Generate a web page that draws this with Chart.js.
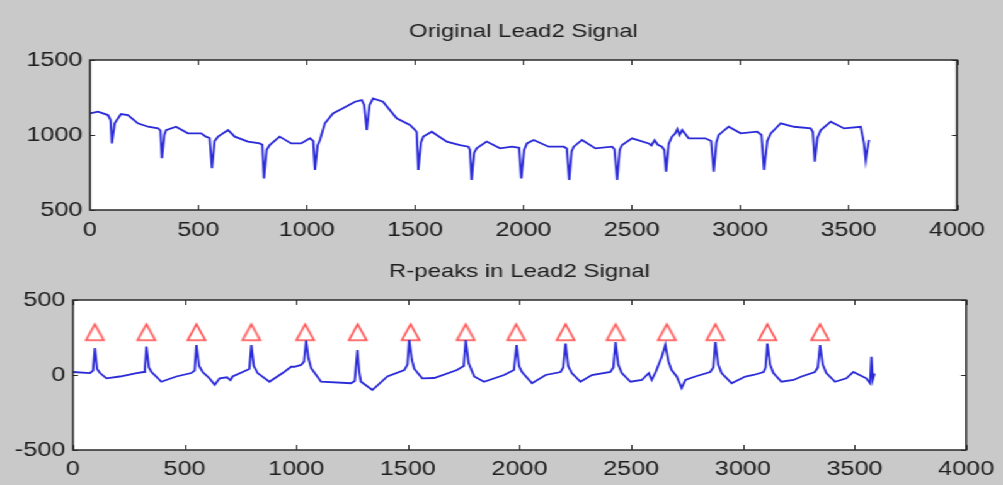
<!DOCTYPE html>
<html>
<head>
<meta charset="utf-8">
<title>Lead2 Signal</title>
<script src="https://cdn.jsdelivr.net/npm/chart.js@4.4.1/dist/chart.umd.min.js"></script>
<style>
  html, body { margin: 0; padding: 0; background: #c9c9c9; overflow: hidden; }
  /* the source picture is stretched sideways, so the whole figure is too */
  #fig { position: absolute; left: 0; top: 0; width: 796px; height: 485px;
         transform: scaleX(1.26); transform-origin: 0 0; }
  #fig canvas { position: absolute; left: 0; }
</style>
</head>
<body>
<div id="fig">
  <canvas id="topChart" width="796" height="240" style="top:0"></canvas>
  <canvas id="bottomChart" width="796" height="245" style="top:240px"></canvas>
</div>
<script>
// ---- data ----
const xTicks = [0, 500, 1000, 1500, 2000, 2500, 3000, 3500, 4000];
const topYTicks = [500, 1000, 1500];
const bottomYTicks = [-500, 0, 500];

const titles = ['Original Lead2 Signal', 'R-peaks in Lead2 Signal'];

// original lead2 signal (sample, value)
const origX = [0, 37, 83, 95, 101, 114, 143, 175, 221, 268, 314, 325, 332, 343, 351, 397, 452, 513, 535, 552,
  563, 575, 591, 637, 668, 729, 783, 795, 803, 815, 829, 875, 928, 974, 1015, 1030, 1038, 1050, 1061, 1084,
  1121, 1167, 1223, 1254, 1265, 1277, 1290, 1306, 1352, 1415, 1476, 1500, 1507, 1515, 1527, 1538, 1577, 1646, 1707, 1746,
  1753, 1761, 1772, 1784, 1830, 1892, 1947, 1980, 1990, 2003, 2016, 2047, 2116, 2186, 2200, 2211, 2222, 2232, 2270, 2332,
  2409, 2420, 2432, 2444, 2455, 2501, 2578, 2590, 2605, 2620, 2639, 2650, 2658, 2670, 2685, 2700, 2710, 2720, 2732, 2762,
  2839, 2866, 2878, 2890, 2901, 2947, 3002, 3078, 3098, 3110, 3125, 3141, 3187, 3248, 3325, 3335, 3344, 3356, 3372, 3418,
  3479, 3556, 3571, 3579, 3586, 3594];
const origY = [1144, 1155, 1133, 1100, 944, 1078, 1140, 1133, 1078, 1055, 1044, 1030, 845, 1000, 1033, 1055, 1011, 1011, 989, 980,
  778, 960, 989, 1033, 989, 956, 944, 935, 711, 900, 933, 989, 944, 944, 978, 960, 767, 930, 967, 1078,
  1144, 1178, 1222, 1233, 1200, 1033, 1200, 1244, 1222, 1111, 1067, 1033, 1020, 767, 950, 989, 1022, 956, 933, 922,
  900, 700, 880, 911, 956, 911, 922, 915, 711, 900, 944, 967, 922, 922, 910, 700, 890, 922, 967, 911,
  922, 905, 700, 900, 933, 978, 944, 930, 965, 935, 922, 900, 756, 940, 989, 1010, 1040, 1000, 1033, 978,
  978, 960, 756, 950, 1000, 1055, 1011, 1022, 1000, 767, 960, 1011, 1078, 1055, 1044, 1020, 822, 980, 1033, 1089,
  1044, 1055, 944, 833, 900, 967];

// filtered signal (sample, value)
const filtX = [0, 76, 90, 98, 108, 121, 150, 210, 285, 317, 322, 329, 340, 352, 396, 463, 530, 545, 553, 565,
  581, 610, 635, 657, 690, 705, 715, 760, 790, 799, 810, 827, 880, 939, 977, 992, 1022, 1035, 1044, 1055,
  1067, 1111, 1245, 1262, 1274, 1282, 1290, 1341, 1408, 1484, 1498, 1506, 1518, 1529, 1564, 1618, 1720, 1750, 1759, 1772,
  1797, 1841, 1931, 1975, 1987, 1998, 2011, 2056, 2117, 2184, 2196, 2206, 2218, 2234, 2273, 2324, 2407, 2420, 2430, 2442,
  2458, 2497, 2548, 2579, 2592, 2610, 2637, 2653, 2667, 2681, 2704, 2726, 2743, 2787, 2854, 2868, 2877, 2890, 2905, 2950,
  3011, 3048, 3093, 3102, 3110, 3122, 3137, 3173, 3227, 3263, 3323, 3336, 3346, 3358, 3374, 3413, 3464, 3495, 3553, 3570,
  3576, 3582, 3590];
const filtY = [20, 13, 30, 180, 40, 13, -22, -10, 13, 20, 40, 190, 50, 20, -45, -10, 13, 30, 200, 60,
  20, -20, -65, -22, -15, -35, -10, 20, 40, 200, 60, 13, -45, 13, 55, 55, 67, 90, 230, 110,
  45, -45, -55, -40, 167, 20, -45, -100, -10, 33, 70, 233, 100, 40, -22, -20, 33, 60, 233, 80,
  -10, -45, 0, 33, 200, 60, 20, -55, 0, 20, 50, 210, 60, 13, -45, 0, 20, 50, 220, 70,
  13, -45, -33, 13, -33, 20, 122, 200, 90, 33, -10, -87, -33, -10, 20, 50, 220, 70, 13, -55,
  -10, 0, 20, 50, 210, 70, 13, -45, -33, -10, 20, 50, 200, 70, 13, -45, -22, 20, -22, -55,
  122, -30, 10];

// detected R-peaks (sample) and the level the markers sit at
const peakX = [98, 329, 553, 799, 1040, 1275, 1512, 1759, 1985, 2206, 2430, 2660, 2877, 3110, 3346];
const peakMarkY = [285, 285, 285, 285, 285, 285, 285, 285, 285, 285, 285, 285, 285, 285, 285];

// ---- drawing ----
const FONT = "'Liberation Sans', Arial, sans-serif";
const textColor = '#202020';

function toPoints(xs, ys) {
  return xs.map((x, i) => ({ x: x, y: ys[i] }));
}

// open red triangle, a bit taller than wide (picture is stretched sideways)
function triangleMarker() {
  const c = document.createElement('canvas');
  c.width = 18; c.height = 22;
  const g = c.getContext('2d');
  g.strokeStyle = '#ff4848';
  g.lineWidth = 1.6;
  g.beginPath();
  g.moveTo(9, 3);
  g.lineTo(16, 19);
  g.lineTo(2, 19);
  g.closePath();
  g.stroke();
  return c;
}

// white axes box with inward ticks on all four sides, like matlab
const matlabBox = {
  id: 'matlabBox',
  beforeDatasetsDraw(chart) {
    const { ctx, chartArea: a } = chart;
    ctx.save();
    ctx.fillStyle = '#ffffff';
    ctx.fillRect(a.left, a.top, a.right - a.left, a.bottom - a.top);
    ctx.restore();
  },
  afterDatasetsDraw(chart) {
    const { ctx, chartArea: a, scales } = chart;
    ctx.save();
    ctx.strokeStyle = '#2a2a2a';
    ctx.lineWidth = 1;
    ctx.beginPath();
    scales.x.ticks.forEach(t => {
      const px = Math.round(scales.x.getPixelForValue(t.value)) + 0.5;
      ctx.moveTo(px, a.top); ctx.lineTo(px, a.top + 5);
      ctx.moveTo(px, a.bottom); ctx.lineTo(px, a.bottom - 5);
    });
    scales.y.ticks.forEach(t => {
      const py = Math.round(scales.y.getPixelForValue(t.value)) + 0.5;
      ctx.moveTo(a.left, py); ctx.lineTo(a.left + 4, py);
      ctx.moveTo(a.right, py); ctx.lineTo(a.right - 4, py);
    });
    ctx.stroke();
    ctx.lineWidth = 1.5;
    ctx.strokeRect(a.left, a.top, a.right - a.left, a.bottom - a.top);
    ctx.restore();
  }
};

function makeChart(id, title, datasets, yTicks, box) {
  return new Chart(document.getElementById(id), {
    type: 'line',
    data: { datasets: datasets },
    options: {
      responsive: false,
      animation: false,
      events: [],
      layout: { padding: { left: 0, right: box.padRight, top: 0, bottom: 0 } },
      plugins: {
        legend: { display: false },
        tooltip: { enabled: false },
        title: {
          display: true,
          text: title,
          fullSize: false,
          color: textColor,
          font: { family: FONT, size: 19, weight: 'normal', lineHeight: 1.2 },
          padding: { top: 20, bottom: 17.2 }
        }
      },
      scales: {
        x: {
          type: 'linear',
          min: 0,
          max: 4000,
          afterBuildTicks: s => { s.ticks = xTicks.map(v => ({ value: v })); },
          afterFit: s => { s.height = box.xAxisHeight; },
          grid: { display: false, drawTicks: false },
          border: { display: false },
          ticks: { autoSkip: false, maxRotation: 0, padding: box.xPad, color: textColor,
                   font: { family: FONT, size: 20 }, callback: v => String(v) }
        },
        y: {
          min: yTicks[0],
          max: yTicks[yTicks.length - 1],
          afterBuildTicks: s => { s.ticks = yTicks.map(v => ({ value: v })); },
          afterFit: s => { s.width = box.left; },
          grid: { display: false, drawTicks: false },
          border: { display: false },
          ticks: { padding: 6, color: textColor, font: { family: FONT, size: 20 },
                   callback: v => String(v) }
        }
      }
    },
    plugins: [matlabBox]
  });
}

const lineStyle = {
  borderColor: '#2a2ad8',
  borderWidth: 1.8,
  pointRadius: 0,
  tension: 0,
  fill: false
};

makeChart('topChart', titles[0], [
  Object.assign({ label: 'lead2', data: toPoints(origX, origY) }, lineStyle)
], topYTicks, { left: 71.4, padRight: 36.5, xAxisHeight: 30, xPad: 8 });

makeChart('bottomChart', titles[1], [
  Object.assign({ label: 'filtered', data: toPoints(filtX, filtY) }, lineStyle),
  {
    label: 'R-peaks',
    data: toPoints(peakX, peakMarkY),
    showLine: false,
    pointStyle: triangleMarker(),
    pointRadius: 10,
    borderColor: '#ff4848',
    backgroundColor: 'transparent'
  }
], bottomYTicks, { left: 57.9, padRight: 27.8, xAxisHeight: 35, xPad: 7 });
</script>
</body>
</html>
